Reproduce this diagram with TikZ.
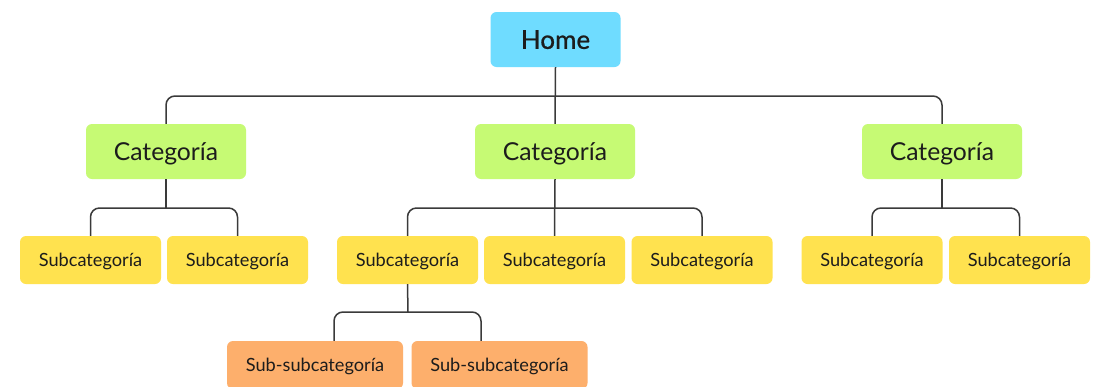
\documentclass[tikz,border=0pt]{standalone}
\usepackage{fontspec}
\setmainfont{Lato}
\newfontfamily\homefont[FakeBold=0.8]{Lato}
\definecolor{homeblue}{HTML}{6FDCFF}
\definecolor{catgreen}{HTML}{C6FA74}
\definecolor{subyellow}{HTML}{FFE24F}
\definecolor{suborange}{HTML}{FDAF6C}
\definecolor{linegray}{HTML}{3A3A3A}
\definecolor{ink}{HTML}{1C1C1C}
\begin{document}
\begin{tikzpicture}[x=1pt,y=-1pt,
  box/.style={rounded corners=6pt, draw=none, text=ink, inner sep=0pt, anchor=center, text depth=0pt},
  homebox/.style={box, fill=homeblue, minimum width=130pt, minimum height=55pt, text height=18.7pt, font=\homefont\fontsize{26}{28}\selectfont},
  catbox/.style={box, fill=catgreen, minimum width=160pt, minimum height=55pt, text height=17.8pt, font=\fontsize{24.7}{26}\selectfont},
  subbox/.style={box, fill=subyellow, minimum width=141pt, minimum height=48pt, text height=13.1pt, font=\fontsize{18.2}{20}\selectfont},
  ssbox/.style={box, fill=suborange, minimum width=176pt, minimum height=48pt, text height=13.1pt, font=\fontsize{18.2}{20}\selectfont},
  conn/.style={draw=linegray, line width=1.5pt, rounded corners=9pt}]
\useasboundingbox (0,0) rectangle (1093,386);
\fill[white] (0,0) rectangle (1093,386);

% root
\node[homebox] (home) at (555.5,39.5) {Home};

% categories
\node[catbox] (cat1) at (166,151.5) {Categoría};
\node[catbox] (cat2) at (555,151.5) {Categoría};
\node[catbox] (cat3) at (942,151.5) {Categoría};

% subcategories
\node[subbox] (s1) at (90.5,260) {Subcategoría};
\node[subbox] (s2) at (237.5,260) {Subcategoría};
\node[subbox] (s3) at (407.5,260) {Subcategoría};
\node[subbox] (s4) at (554.5,260) {Subcategoría};
\node[subbox] (s5) at (702,260) {Subcategoría};
\node[subbox] (s6) at (872,260) {Subcategoría};
\node[subbox] (s7) at (1019.5,260) {Subcategoría};

% sub-subcategories
\node[ssbox] (ss1) at (315,365) {Sub-subcategoría};
\node[ssbox] (ss2) at (499.5,365) {Sub-subcategoría};

% bus junctions
\coordinate (b0) at (555.5,96);
\coordinate (b1) at (166,208);
\coordinate (b2) at (555,208);
\coordinate (b3) at (942,208);
\coordinate (b4) at (408,312);

% home -> categories
\draw[conn] (home.south) -- (cat2.north);
\draw[conn] (cat1.north) |- (b0) -| (cat3.north);

% categories -> subcategories
\draw[conn] (cat1.south) -- (b1);
\draw[conn] (s1.north) |- (b1) -| (s2.north);
\draw[conn] (cat2.south) -- (s4.north);
\draw[conn] (s3.north) |- (b2) -| (s5.north);
\draw[conn] (cat3.south) -- (b3);
\draw[conn] (s6.north) |- (b3) -| (s7.north);

% subcategory -> sub-subcategories
\draw[conn] (s3.south) -- (b4);
\draw[conn] ([xshift=19pt]ss1.north) |- (b4) -| ([xshift=-18.5pt]ss2.north);
\end{tikzpicture}
\end{document}
